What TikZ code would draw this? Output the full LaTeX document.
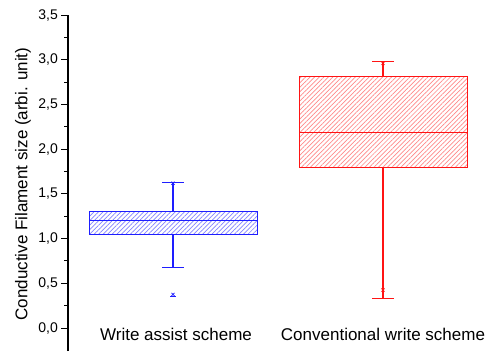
\documentclass[tikz,border=0pt]{standalone}
\usepackage{fontspec}
\setmainfont{Liberation Sans}
\usetikzlibrary{patterns.meta}
\definecolor{boxblue}{RGB}{30,30,255}
\definecolor{boxred}{RGB}{255,20,20}
\begin{document}
\begin{tikzpicture}[x=1pt,y=89.43pt,
        ticklbl/.style={anchor=east,inner sep=0pt,font=\fontsize{14}{16}\selectfont},
        axlbl/.style={inner sep=0pt,font=\fontsize{17}{20}\selectfont},
        hatch/.style={pattern={Lines[angle=45,distance=3.2pt,line width=0.7pt]}},
        bluebox/.style={draw=boxblue,line width=1pt,hatch,pattern color=boxblue!55},
        redbox/.style={draw=boxred,line width=1pt,hatch,pattern color=boxred!50},
        bluewhisk/.style={draw=boxblue,line width=1.1pt},
        redwhisk/.style={draw=boxred,line width=1.1pt}]
        \useasboundingbox (0,-0.257) rectangle (485,3.668);
        % axis
        \draw[line width=1.1pt] (68,-0.257) -- (68,3.5);
        \foreach \v in {0,0.5,1,1.5,2,2.5,3,3.5} {
            \draw[line width=1pt] (61,\v) -- (68,\v);
        }
        \foreach \v in {0.25,0.75,1.25,1.75,2.25,2.75,3.25} {
            \draw[line width=1pt] (64,\v) -- (68,\v);
        }
        \node[ticklbl] (t00) at (58,0) {0,0};
        \node[ticklbl] (t05) at (58,0.5) {0,5};
        \node[ticklbl] (t10) at (58,1) {1,0};
        \node[ticklbl] (t15) at (58,1.5) {1,5};
        \node[ticklbl] (t20) at (58,2) {2,0};
        \node[ticklbl] (t25) at (58,2.5) {2,5};
        \node[ticklbl] (t30) at (58,3) {3,0};
        \node[ticklbl] (t35) at (58,3.5) {3,5};
        \node[axlbl,rotate=90] (ylbl) at (23,1.61) {Conductive Filament size (arbi. unit)};
        \node[axlbl,anchor=base] (wlbl) at (176,-0.134) {Write assist scheme};
        \node[axlbl,anchor=base] (clbl) at (383,-0.134) {Conventional write scheme};
        % write assist
        \draw[bluewhisk] (173,1.3) -- (173,1.63);
        \draw[bluewhisk] (162,1.63) -- (184,1.63);
        \draw[bluewhisk] (173,1.05) -- (173,0.68);
        \draw[bluewhisk] (162,0.68) -- (184,0.68);
        \draw[bluebox] (89,1.05) rectangle (257,1.3);
        \draw[draw=boxblue,line width=1pt] (89,1.2) -- (257,1.2);
        \draw[boxblue,line width=0.6pt] plot[only marks,mark=square,mark size=2pt] coordinates {(173,1.12)};
        \draw[boxblue,line width=0.7pt] plot[only marks,mark=x,mark size=2.2pt] coordinates {(173,1.62) (173,0.375)};
        \draw[boxblue,line width=0.6pt] (170,0.35) -- (176,0.35);
        % conventional
        \draw[redwhisk] (383,2.81) -- (383,2.985);
        \draw[redwhisk] (372,2.985) -- (394,2.985);
        \draw[redwhisk] (383,1.8) -- (383,0.335);
        \draw[redwhisk] (372,0.335) -- (394,0.335);
        \draw[redbox] (299,1.8) rectangle (467,2.81);
        \draw[draw=boxred,line width=1pt] (299,2.19) -- (467,2.19);
        \draw[boxred,line width=0.6pt] plot[only marks,mark=square,mark size=2pt] coordinates {(383,2.12)};
        \draw[boxred,line width=0.7pt] plot[only marks,mark=x,mark size=2.2pt] coordinates {(383,2.96) (383,0.425)};
\end{tikzpicture}
\end{document}
